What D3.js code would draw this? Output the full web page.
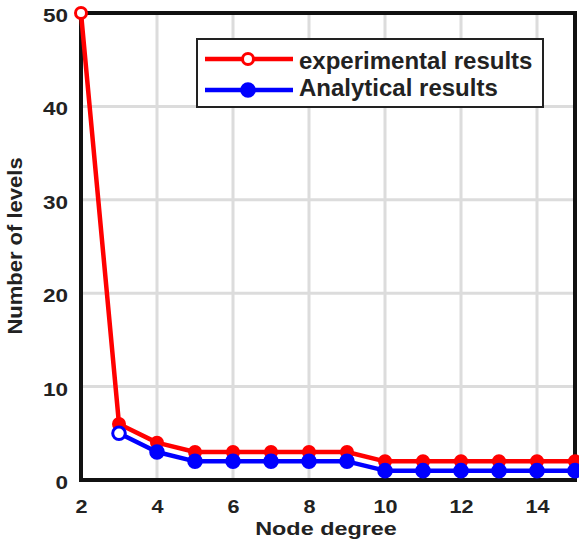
<!DOCTYPE html>
<html><head><meta charset="utf-8">
<script src="https://cdn.jsdelivr.net/npm/d3@7"></script>
<style>body{margin:0;background:#fff;}svg{display:block;font-family:"Liberation Sans",Arial,sans-serif;}</style>
</head><body>
<svg id="c" width="579" height="544"></svg>
<script>
const degreesExp = [2,3,4,5,6,7,8,9,10,11,12,13,14,15];
const experimental = [50,6,4,3,3,3,3,3,2,2,2,2,2,2];
const degreesAna = [3,4,5,6,7,8,9,10,11,12,13,14,15];
const analytical = [5,3,2,2,2,2,2,1,1,1,1,1,1];
const xTicks = [2,4,6,8,10,12,14];
const yTicks = [0,10,20,30,40,50];
const seriesNames = ["experimental results","Analytical results"];

const svg = d3.select("#c");
const L=81, R=575, T=13, B=480;
const x = d3.scaleLinear().domain([2,15]).range([L,R]);
const y = d3.scaleLinear().domain([0,50]).range([B,T]);
const txt = "#222";

// grid
svg.append("g").selectAll("line").data(xTicks).join("line")
  .attr("x1",d=>x(d)).attr("x2",d=>x(d)).attr("y1",T).attr("y2",B)
  .attr("stroke","#dcdcdc").attr("stroke-width",3);
svg.append("g").selectAll("line").data(yTicks).join("line")
  .attr("x1",L).attr("x2",R).attr("y1",d=>y(d)).attr("y2",d=>y(d))
  .attr("stroke","#dcdcdc").attr("stroke-width",3);

// axes
const xa = svg.append("g").attr("transform",`translate(0,${B})`)
  .call(d3.axisBottom(x).tickValues(xTicks).tickSize(0));
const ya = svg.append("g").attr("transform",`translate(${L},0)`)
  .call(d3.axisLeft(y).tickValues(yTicks).tickSize(0));
[xa,ya].forEach(a=>{
  a.select(".domain").remove();
  a.selectAll("text").attr("font-size",18).attr("font-weight","bold").attr("fill",txt)
   .attr("font-family","'Liberation Sans',Arial,sans-serif");
});
xa.selectAll("text").attr("y",0).attr("dy",0).attr("transform","translate(0,33) scale(1.2,1)");
ya.selectAll("text").attr("x",0).attr("dy","0.36em").attr("transform","translate(-13,2) scale(1.25,1)");

// box
svg.append("rect").attr("x",L).attr("y",T).attr("width",R-L).attr("height",B-T)
  .attr("fill","none").attr("stroke","#111").attr("stroke-width",4);

const line = d3.line().x(d=>x(d[0])).y(d=>y(d[1]));
const anaData = degreesAna.map((d,i)=>[d,analytical[i]]);
const expData = degreesExp.map((d,i)=>[d,experimental[i]]);

function drawSeries(data,color,r){
  svg.append("path").datum(data).attr("d",line).attr("fill","none")
    .attr("stroke",color).attr("stroke-width",4.5).attr("stroke-linejoin","round");
  svg.append("g").selectAll("circle").data(data).join("circle")
    .attr("cx",d=>x(d[0])).attr("cy",d=>y(d[1])).attr("r",r)
    .attr("fill",(d,i)=>i===0?"#fff":color).attr("stroke",color).attr("stroke-width",3);
}
drawSeries(expData,"#ff0000",5.5);
drawSeries(anaData,"#0000ff",6.3);

// labels
svg.append("g").attr("transform","translate(326,535)")
  .append("text").attr("text-anchor","middle").attr("transform","scale(1.3,1)")
  .attr("font-size",18).attr("font-weight","bold").attr("fill",txt).text("Node degree");
svg.append("text").attr("transform","translate(22,246) rotate(-90) scale(1.1,1)").attr("text-anchor","middle")
  .attr("font-size",20).attr("font-weight","bold").attr("fill",txt).text("Number of levels");

// legend
const lg = svg.append("g");
lg.append("rect").attr("x",197).attr("y",39).attr("width",346).attr("height",68)
  .attr("fill","#fff").attr("stroke","#222").attr("stroke-width",2);
const colors=["#ff0000","#0000ff"];
const radii=[5.5,6.3];
const lineY=[59,90], baseY=[69,96];
seriesNames.forEach((n,i)=>{
  const yy = lineY[i];
  lg.append("line").attr("x1",205).attr("x2",293).attr("y1",yy).attr("y2",yy)
    .attr("stroke",colors[i]).attr("stroke-width",4.5);
  lg.append("circle").attr("cx",248).attr("cy",yy).attr("r",radii[i])
    .attr("fill",i===0?"#fff":colors[i]).attr("stroke",colors[i]).attr("stroke-width",3);
  lg.append("text").attr("x",299).attr("y",baseY[i])
    .attr("font-size",24).attr("font-weight","bold").attr("fill",txt).text(n);
});
</script>
</body></html>
